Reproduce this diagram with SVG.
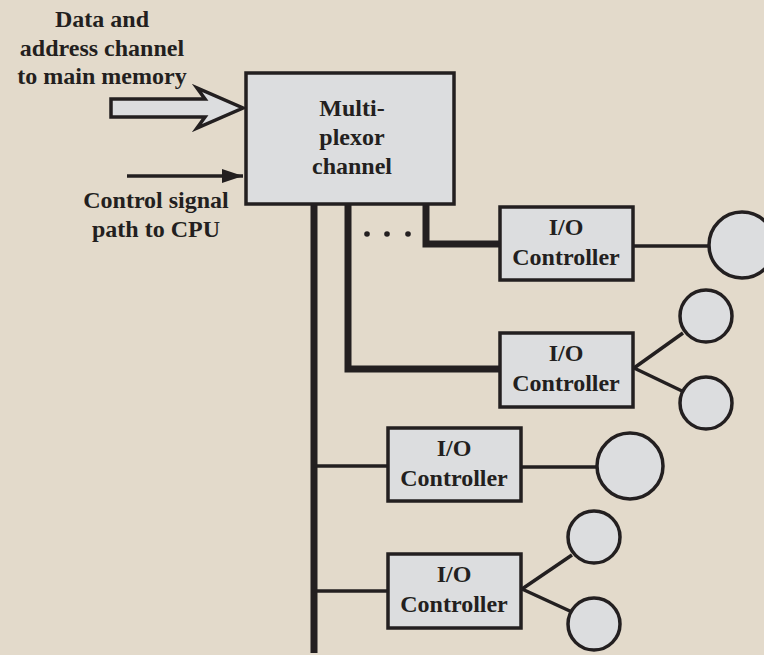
<svg xmlns="http://www.w3.org/2000/svg" width="764" height="655" viewBox="0 0 764 655">
<defs>
<style>
text{font-family:"Liberation Serif","Times New Roman",serif;font-weight:bold;font-size:24px;fill:#231f20;text-anchor:middle}
.box{fill:#dcdddf;stroke:#231f20;stroke-width:3.5}
.dev{fill:#dcdddf;stroke:#231f20;stroke-width:3.5}
.thick{fill:none;stroke:#231f20;stroke-width:7}
.thin{fill:none;stroke:#231f20;stroke-width:3.5}
</style>
<marker id="ah" markerWidth="10" markerHeight="10" refX="9" refY="5" orient="auto" markerUnits="userSpaceOnUse" viewBox="0 0 10 10">
<path d="M0,0 L10,5 L0,10 Z" fill="#231f20"/>
</marker>
</defs>
<rect width="764" height="655" fill="#e3dacb"/>
<g id="connectors">
<line class="thick" x1="314" y1="205" x2="314" y2="653"/>
<polyline class="thick" points="348,205 348,369 499,369"/>
<polyline class="thick" points="426,205 426,244 499,244"/>
<line class="thin" x1="314" y1="466" x2="387" y2="466"/>
<line class="thin" x1="314" y1="591" x2="387" y2="591"/>
<line class="thin" x1="634" y1="246" x2="708" y2="246"/>
<line class="thin" x1="634" y1="368" x2="683" y2="333"/>
<line class="thin" x1="634" y1="368" x2="682" y2="391"/>
<line class="thin" x1="522" y1="467" x2="596" y2="467"/>
<line class="thin" x1="522" y1="589" x2="572" y2="555"/>
<line class="thin" x1="522" y1="589" x2="572" y2="612"/>
<polygon points="111,99 205,99 197,88 243,108 197,128 205,117 111,117" fill="#dcdddf" stroke="#231f20" stroke-width="3.5" stroke-linejoin="miter"/>
<line x1="127" y1="176" x2="243" y2="176" stroke="#231f20" stroke-width="3.5"/>
<path d="M222,169 L243,176 L222,183 Z" fill="#231f20"/>
<circle cx="367" cy="234" r="2.8" fill="#231f20"/>
<circle cx="387" cy="234" r="2.8" fill="#231f20"/>
<circle cx="408" cy="234" r="2.8" fill="#231f20"/>
</g>
<g id="label-data">
<text x="102" y="27">Data and</text>
<text x="102" y="56">address channel</text>
<text x="102" y="84">to main memory</text>
</g>
<g id="label-control">
<text x="156" y="208">Control signal</text>
<text x="156" y="237">path to CPU</text>
</g>
<g id="mux">
<rect class="box" x="246" y="73" width="208" height="131"/>
<text x="352" y="116">Multi-</text>
<text x="352" y="145">plexor</text>
<text x="352" y="174">channel</text>
</g>
<g id="ioc1">
<rect class="box" x="500" y="207" width="133" height="73"/>
<text x="566" y="235">I/O</text>
<text x="566" y="265">Controller</text>
</g>
<g id="ioc2">
<rect class="box" x="500" y="333" width="133" height="74"/>
<text x="566" y="361">I/O</text>
<text x="566" y="391">Controller</text>
</g>
<g id="ioc3">
<rect class="box" x="388" y="428" width="133" height="73"/>
<text x="454" y="456">I/O</text>
<text x="454" y="486">Controller</text>
</g>
<g id="ioc4">
<rect class="box" x="388" y="554" width="133" height="74"/>
<text x="454" y="582">I/O</text>
<text x="454" y="612">Controller</text>
</g>
<g id="dev1"><circle class="dev" cx="742" cy="245" r="33"/></g>
<g id="dev2a"><circle class="dev" cx="706" cy="316" r="26"/></g>
<g id="dev2b"><circle class="dev" cx="706" cy="403" r="26"/></g>
<g id="dev3"><circle class="dev" cx="630" cy="466" r="33"/></g>
<g id="dev4a"><circle class="dev" cx="594" cy="537" r="26"/></g>
<g id="dev4b"><circle class="dev" cx="594" cy="624" r="26"/></g>
</svg>
